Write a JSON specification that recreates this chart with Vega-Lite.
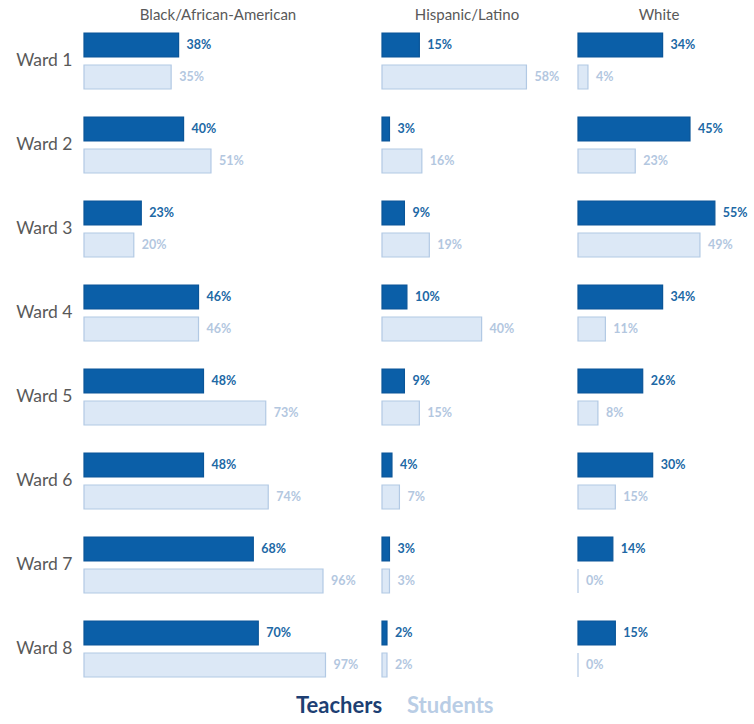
{
  "$schema": "https://vega.github.io/schema/vega-lite/v6.json",
  "padding": {"left": 12, "top": 8, "right": 0, "bottom": 0},
  "spacing": 0,
  "bounds": "flush",
  "background": "white",
  "config": {
    "view": {"stroke": null},
    "font": "Lato",
    "title": {"font": "Lato", "fontSize": 15, "fontWeight": "normal", "color": "#595959", "anchor": "middle"}
  },
  "data": {
    "values": [
      {"group": "Black/African-American", "ward": "Ward 1", "role": "Teachers", "pct": 0.38},
      {"group": "Black/African-American", "ward": "Ward 1", "role": "Students", "pct": 0.35},
      {"group": "Black/African-American", "ward": "Ward 2", "role": "Teachers", "pct": 0.40},
      {"group": "Black/African-American", "ward": "Ward 2", "role": "Students", "pct": 0.51},
      {"group": "Black/African-American", "ward": "Ward 3", "role": "Teachers", "pct": 0.23},
      {"group": "Black/African-American", "ward": "Ward 3", "role": "Students", "pct": 0.20},
      {"group": "Black/African-American", "ward": "Ward 4", "role": "Teachers", "pct": 0.46},
      {"group": "Black/African-American", "ward": "Ward 4", "role": "Students", "pct": 0.46},
      {"group": "Black/African-American", "ward": "Ward 5", "role": "Teachers", "pct": 0.48},
      {"group": "Black/African-American", "ward": "Ward 5", "role": "Students", "pct": 0.73},
      {"group": "Black/African-American", "ward": "Ward 6", "role": "Teachers", "pct": 0.48},
      {"group": "Black/African-American", "ward": "Ward 6", "role": "Students", "pct": 0.74},
      {"group": "Black/African-American", "ward": "Ward 7", "role": "Teachers", "pct": 0.68},
      {"group": "Black/African-American", "ward": "Ward 7", "role": "Students", "pct": 0.96},
      {"group": "Black/African-American", "ward": "Ward 8", "role": "Teachers", "pct": 0.70},
      {"group": "Black/African-American", "ward": "Ward 8", "role": "Students", "pct": 0.97},
      {"group": "Hispanic/Latino", "ward": "Ward 1", "role": "Teachers", "pct": 0.15},
      {"group": "Hispanic/Latino", "ward": "Ward 1", "role": "Students", "pct": 0.58},
      {"group": "Hispanic/Latino", "ward": "Ward 2", "role": "Teachers", "pct": 0.03},
      {"group": "Hispanic/Latino", "ward": "Ward 2", "role": "Students", "pct": 0.16},
      {"group": "Hispanic/Latino", "ward": "Ward 3", "role": "Teachers", "pct": 0.09},
      {"group": "Hispanic/Latino", "ward": "Ward 3", "role": "Students", "pct": 0.19},
      {"group": "Hispanic/Latino", "ward": "Ward 4", "role": "Teachers", "pct": 0.10},
      {"group": "Hispanic/Latino", "ward": "Ward 4", "role": "Students", "pct": 0.40},
      {"group": "Hispanic/Latino", "ward": "Ward 5", "role": "Teachers", "pct": 0.09},
      {"group": "Hispanic/Latino", "ward": "Ward 5", "role": "Students", "pct": 0.15},
      {"group": "Hispanic/Latino", "ward": "Ward 6", "role": "Teachers", "pct": 0.04},
      {"group": "Hispanic/Latino", "ward": "Ward 6", "role": "Students", "pct": 0.07},
      {"group": "Hispanic/Latino", "ward": "Ward 7", "role": "Teachers", "pct": 0.03},
      {"group": "Hispanic/Latino", "ward": "Ward 7", "role": "Students", "pct": 0.03},
      {"group": "Hispanic/Latino", "ward": "Ward 8", "role": "Teachers", "pct": 0.02},
      {"group": "Hispanic/Latino", "ward": "Ward 8", "role": "Students", "pct": 0.02},
      {"group": "White", "ward": "Ward 1", "role": "Teachers", "pct": 0.34},
      {"group": "White", "ward": "Ward 1", "role": "Students", "pct": 0.04},
      {"group": "White", "ward": "Ward 2", "role": "Teachers", "pct": 0.45},
      {"group": "White", "ward": "Ward 2", "role": "Students", "pct": 0.23},
      {"group": "White", "ward": "Ward 3", "role": "Teachers", "pct": 0.55},
      {"group": "White", "ward": "Ward 3", "role": "Students", "pct": 0.49},
      {"group": "White", "ward": "Ward 4", "role": "Teachers", "pct": 0.34},
      {"group": "White", "ward": "Ward 4", "role": "Students", "pct": 0.11},
      {"group": "White", "ward": "Ward 5", "role": "Teachers", "pct": 0.26},
      {"group": "White", "ward": "Ward 5", "role": "Students", "pct": 0.08},
      {"group": "White", "ward": "Ward 6", "role": "Teachers", "pct": 0.30},
      {"group": "White", "ward": "Ward 6", "role": "Students", "pct": 0.15},
      {"group": "White", "ward": "Ward 7", "role": "Teachers", "pct": 0.14},
      {"group": "White", "ward": "Ward 7", "role": "Students", "pct": 0.0},
      {"group": "White", "ward": "Ward 8", "role": "Teachers", "pct": 0.15},
      {"group": "White", "ward": "Ward 8", "role": "Students", "pct": 0.0}
    ]
  },
  "resolve": {"scale": {"x": "independent"}},
  "hconcat": [
    {
      "width": 298,
      "height": 672,
      "title": {"text": "Black/African-American", "dx": -15, "offset": -4},
      "transform": [{"filter": "datum.group == 'Black/African-American'"}],
      "encoding": {
        "y": {"field": "ward", "type": "nominal", "sort": ["Ward 1", "Ward 2", "Ward 3", "Ward 4", "Ward 5", "Ward 6", "Ward 7", "Ward 8"],
              "scale": {"paddingInner": 0, "paddingOuter": 0},
              "axis": {"title": null, "domain": false, "ticks": false, "grid": false, "labelFontSize": 17.5, "labelColor": "#595959", "labelFont": "Lato", "labelPadding": 12, "minExtent": 72, "maxExtent": 72}},
        "yOffset": {"field": "role", "type": "nominal", "sort": ["Teachers", "Students"], "scale": {"paddingInner": 0.25, "paddingOuter": 0.4375}},
        "x": {"field": "pct", "type": "quantitative", "scale": {"domain": [0, 1.197], "nice": false}, "axis": null}
      },
      "layer": [
        {
          "mark": {"type": "bar", "strokeWidth": 1.2},
          "encoding": {
            "fill": {"field": "role", "type": "nominal", "sort": ["Teachers", "Students"], "scale": {"domain": ["Teachers", "Students"], "range": ["#0b5fa8", "#dce8f6"]},
                     "legend": {"orient": "none", "legendX": 190, "legendY": 676, "direction": "horizontal", "title": null, "symbolSize": 0, "symbolStrokeWidth": 0, "symbolOpacity": 0, "labelOffset": 0, "columnPadding": 2, "labelFontSize": 22, "labelFontWeight": "bold", "labelFont": "Lato", "labelColor": {"expr": "datum.label == 'Teachers' ? '#1d3f73' : '#b9cde5'"}}},
            "stroke": {"field": "role", "type": "nominal", "scale": {"domain": ["Teachers", "Students"], "range": ["#0a5598", "#b2c9e4"]}, "legend": null}
          }
        },
        {
          "mark": {"type": "text", "align": "left", "baseline": "middle", "dx": 8, "fontSize": 12.5, "fontWeight": "bold", "font": "Lato"},
          "encoding": {
            "text": {"field": "pct", "type": "quantitative", "format": ".0%"},
            "fill": {"condition": {"test": "datum.role == 'Teachers'", "value": "#2068a5"}, "value": "#b3c7df"}
          }
        }
      ]
    },
    {
      "width": 196,
      "height": 672,
      "title": {"text": "Hispanic/Latino", "dx": -13, "offset": -4},
      "transform": [{"filter": "datum.group == 'Hispanic/Latino'"}],
      "encoding": {
        "y": {"field": "ward", "type": "nominal", "sort": ["Ward 1", "Ward 2", "Ward 3", "Ward 4", "Ward 5", "Ward 6", "Ward 7", "Ward 8"], "scale": {"paddingInner": 0, "paddingOuter": 0}, "axis": null},
        "yOffset": {"field": "role", "type": "nominal", "sort": ["Teachers", "Students"], "scale": {"paddingInner": 0.25, "paddingOuter": 0.4375}},
        "x": {"field": "pct", "type": "quantitative", "scale": {"domain": [0, 0.787], "nice": false}, "axis": null}
      },
      "layer": [
        {
          "mark": {"type": "bar", "strokeWidth": 1.2},
          "encoding": {
            "fill": {"field": "role", "type": "nominal", "sort": ["Teachers", "Students"], "scale": {"domain": ["Teachers", "Students"], "range": ["#0b5fa8", "#dce8f6"]}},
            "stroke": {"field": "role", "type": "nominal", "scale": {"domain": ["Teachers", "Students"], "range": ["#0a5598", "#b2c9e4"]}, "legend": null}
          }
        },
        {
          "mark": {"type": "text", "align": "left", "baseline": "middle", "dx": 8, "fontSize": 12.5, "fontWeight": "bold", "font": "Lato"},
          "encoding": {
            "text": {"field": "pct", "type": "quantitative", "format": ".0%"},
            "fill": {"condition": {"test": "datum.role == 'Teachers'", "value": "#2068a5"}, "value": "#b3c7df"}
          }
        }
      ]
    },
    {
      "width": 164,
      "height": 672,
      "title": {"text": "White", "dx": -1, "offset": -4},
      "transform": [{"filter": "datum.group == 'White'"}],
      "encoding": {
        "y": {"field": "ward", "type": "nominal", "sort": ["Ward 1", "Ward 2", "Ward 3", "Ward 4", "Ward 5", "Ward 6", "Ward 7", "Ward 8"], "scale": {"paddingInner": 0, "paddingOuter": 0}, "axis": null},
        "yOffset": {"field": "role", "type": "nominal", "sort": ["Teachers", "Students"], "scale": {"paddingInner": 0.25, "paddingOuter": 0.4375}},
        "x": {"field": "pct", "type": "quantitative", "scale": {"domain": [0, 0.659], "nice": false}, "axis": null}
      },
      "layer": [
        {
          "mark": {"type": "bar", "strokeWidth": 1.2},
          "encoding": {
            "fill": {"field": "role", "type": "nominal", "sort": ["Teachers", "Students"], "scale": {"domain": ["Teachers", "Students"], "range": ["#0b5fa8", "#dce8f6"]}},
            "stroke": {"field": "role", "type": "nominal", "scale": {"domain": ["Teachers", "Students"], "range": ["#0a5598", "#b2c9e4"]}, "legend": null}
          }
        },
        {
          "mark": {"type": "text", "align": "left", "baseline": "middle", "dx": 8, "fontSize": 12.5, "fontWeight": "bold", "font": "Lato"},
          "encoding": {
            "text": {"field": "pct", "type": "quantitative", "format": ".0%"},
            "fill": {"condition": {"test": "datum.role == 'Teachers'", "value": "#2068a5"}, "value": "#b3c7df"}
          }
        }
      ]
    }
  ]
}
